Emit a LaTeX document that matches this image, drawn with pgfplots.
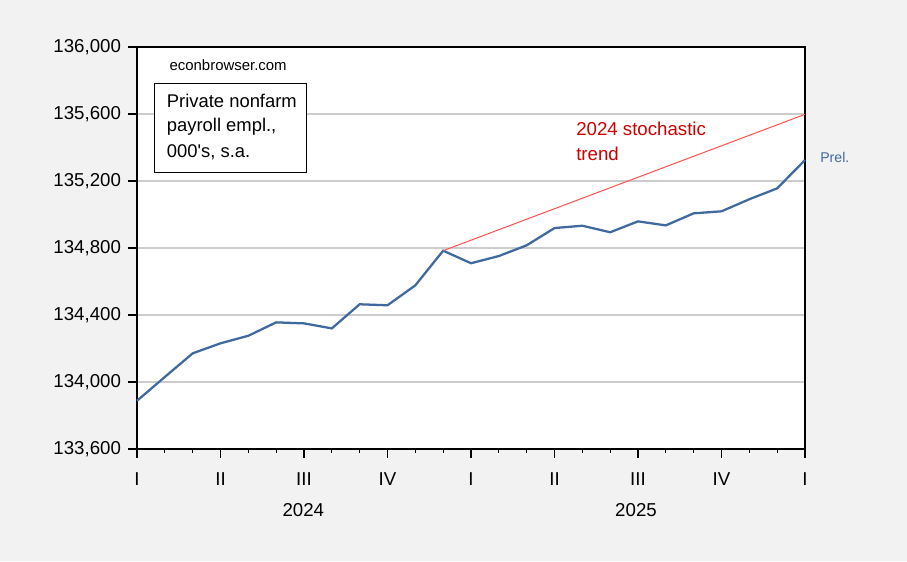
\documentclass[border=0pt]{standalone}
\usepackage{pgfplots}
\pgfplotsset{compat=1.18}
\usepackage{fontspec}
\setmainfont{Liberation Sans}

\definecolor{bgray}{RGB}{242,242,242}
\definecolor{gridgray}{RGB}{204,204,204}
\definecolor{empblue}{RGB}{64,106,158}
\definecolor{trendred}{RGB}{255,80,80}
\definecolor{txtred}{RGB}{204,0,0}

\begin{document}
\begin{tikzpicture}
  % 1 px = 0.75 pt
  \fill[bgray] (0,0) rectangle (680.25pt,420.75pt);
  \useasboundingbox (0,0) rectangle (680.25pt,420.75pt);
  \begin{axis}[
      at={(102.75pt,84pt)}, anchor=south west,
      scale only axis, width=501pt, height=301.5pt,
      xmin=0, xmax=24, ymin=133600, ymax=136000,
      axis background/.style={fill=white},
      axis line style={black, line width=1.1pt},
      xtick={0,3,...,24},
      xticklabels={I,II,III,IV,I,II,III,IV,I},
      minor xtick={0,1,...,24},
      ytick={133600,134000,134400,134800,135200,135600,136000},
      scaled y ticks=false,
      tick align=outside,
      xtick pos=bottom, ytick pos=left,
      major tick length=6.5pt, minor tick length=3pt,
      tick style={black, line width=0.8pt},
      ymajorgrids,
      grid style={gridgray, line width=0.8pt},
      tick label style={font=\fontsize{14}{16}\selectfont},
      xticklabel style={yshift=-8pt},
      yticklabel style={xshift=-2pt},
      yticklabel={\pgfmathprintnumber[fixed, precision=0, 1000 sep={,}, assume math mode=true]{\tick}},
      clip=false,
    ]
    \addplot[empblue, line width=1.7pt] coordinates {
      (0,133888) (1,134030) (2,134171) (3,134231) (4,134276) (5,134356)
      (6,134350) (7,134320) (8,134464) (9,134458) (10,134577) (11,134784)
      (12,134709) (13,134752) (14,134816) (15,134919) (16,134933) (17,134894)
      (18,134959) (19,134935) (20,135007) (21,135019) (22,135091) (23,135156)
      (24,135325)
    };
    \addplot[trendred, line width=0.75pt] coordinates {
      (11,134784) (24,135598)
    };
  \end{axis}
  \node[anchor=base, font=\fontsize{14}{16}\selectfont, inner sep=0pt] at (227.5pt,33.25pt) {2024};
  \node[anchor=base, font=\fontsize{14}{16}\selectfont, inner sep=0pt] at (477pt,33.25pt) {2025};
  \node[anchor=base west, font=\fontsize{11.2}{13}\selectfont, inner sep=0pt] at (127pt,367.75pt) {econbrowser.com};
  \draw[black, line width=0.8pt, fill=white] (115.75pt,358.25pt) rectangle (229.75pt,291.5pt);
  \begin{scope}[every node/.style={anchor=base west, font=\fontsize{13.8}{16}\selectfont, inner sep=0pt}]
    \node at (125pt,340pt) {Private nonfarm};
    \node at (125pt,322pt) {payroll empl.,};
    \node at (125pt,302.75pt) {000\textquotesingle s, s.a.};
  \end{scope}
  \begin{scope}[every node/.style={anchor=base west, font=\fontsize{14}{16}\selectfont, inner sep=0pt, text=txtred}]
    \node at (432pt,318.75pt) {2024 stochastic};
    \node at (432pt,300pt) {trend};
  \end{scope}
  \node[anchor=west, font=\fontsize{10.6}{12}\selectfont, inner sep=0pt, text=empblue] at (615pt,303pt) {Prel.};
\end{tikzpicture}
\end{document}
